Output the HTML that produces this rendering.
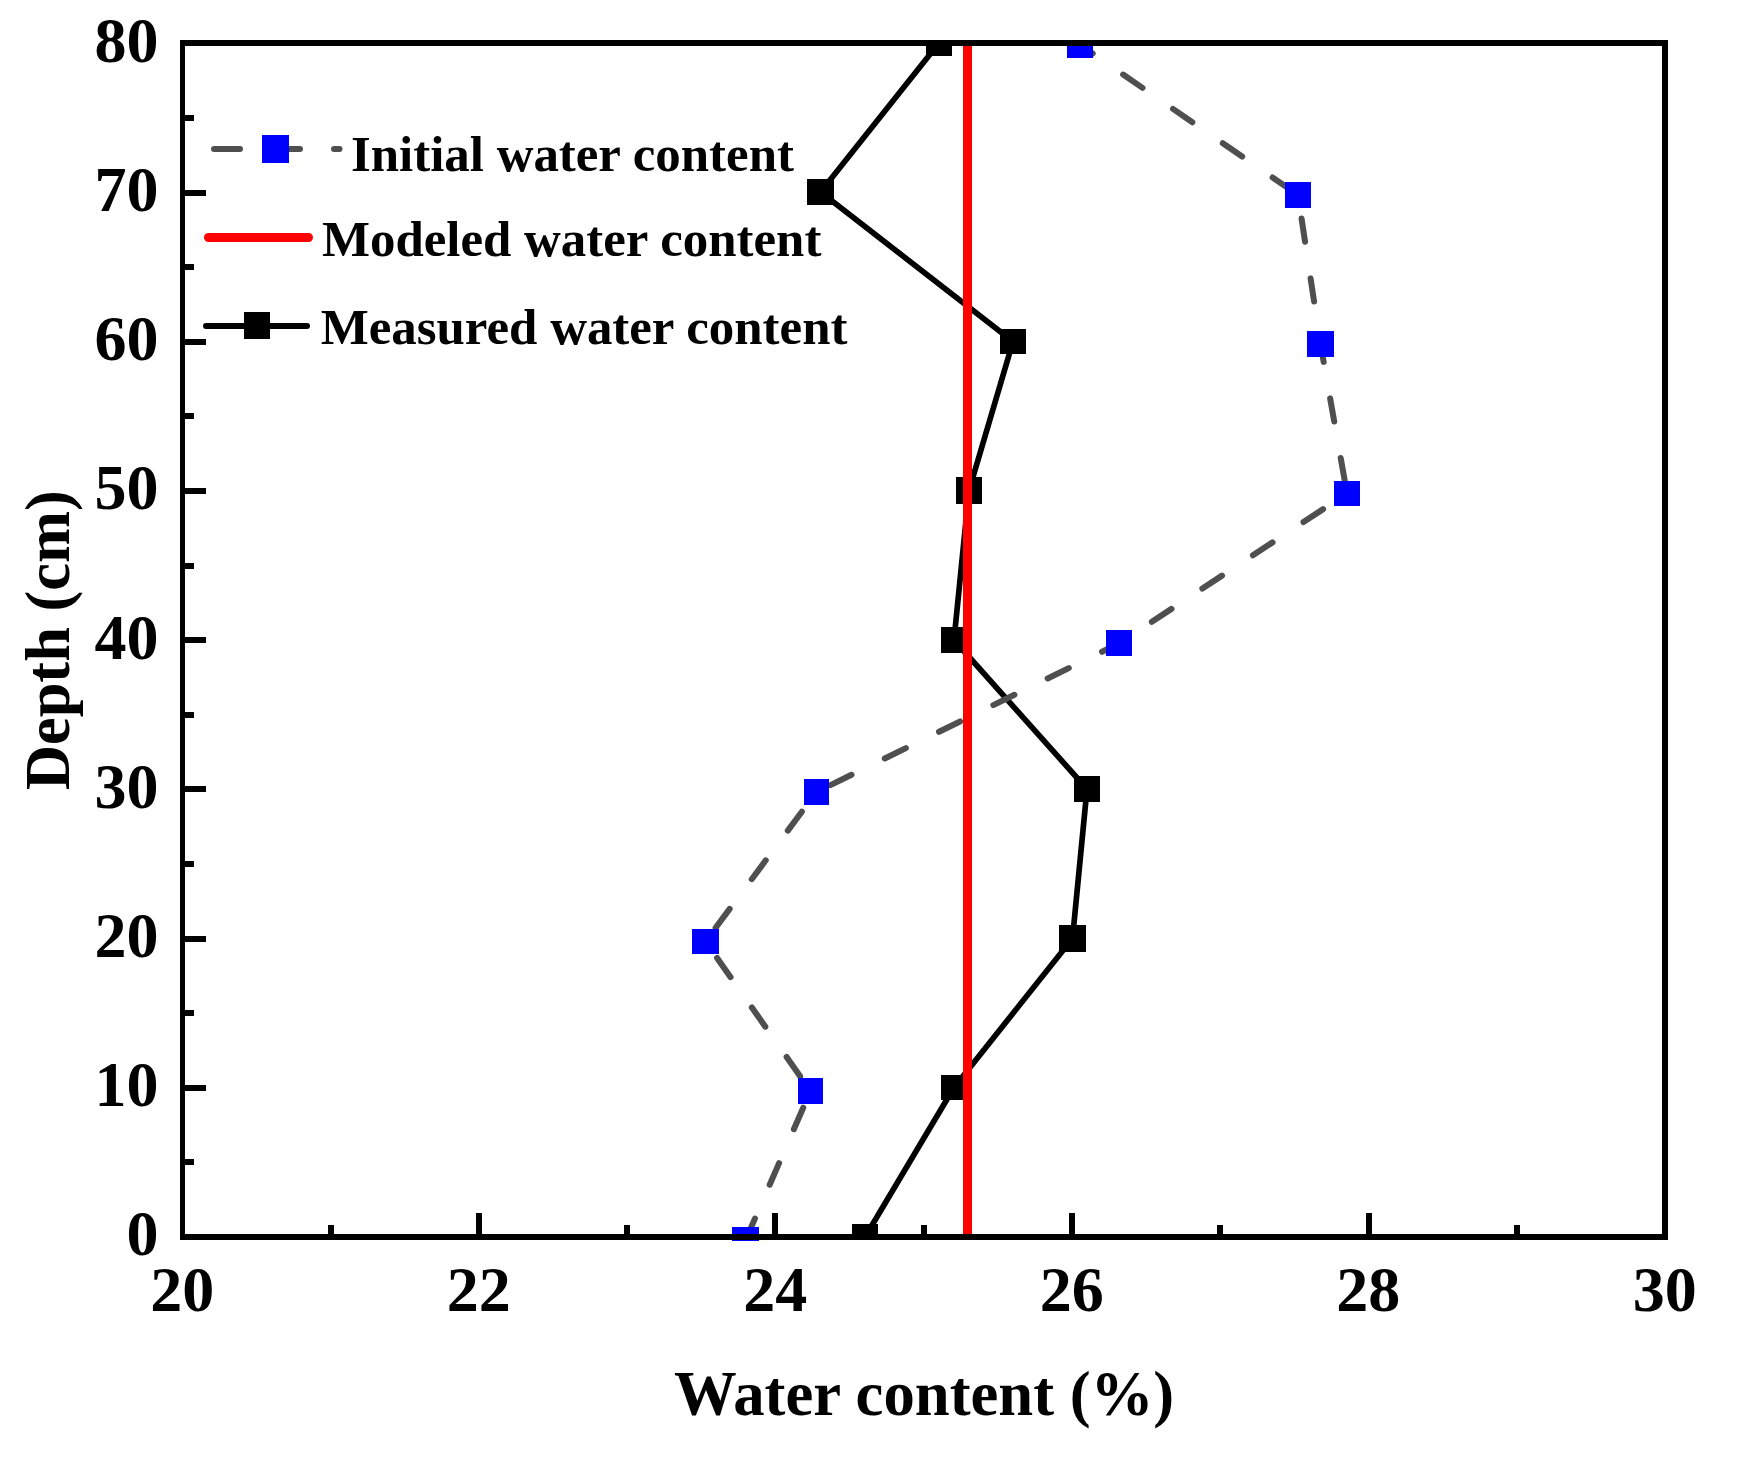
<!DOCTYPE html>
<html lang="en"><head><meta charset="utf-8"><title>Water content vs depth</title>
<style>
html,body{margin:0;padding:0;background:#fff;}
body{width:1738px;height:1463px;overflow:hidden;}
svg{display:block;}
text{font-family:"Liberation Serif",serif;font-weight:bold;fill:#000;}
.tk{font-size:64px;}
.ttl{font-size:62.7px;}
.lg{font-size:50.9px;}
</style></head><body>
<svg width="1738" height="1463" viewBox="0 0 1738 1463">
<rect x="0" y="0" width="1738" height="1463" fill="#fff"/>
<defs><clipPath id="plot"><rect x="180" y="40" width="1488" height="1200"/></clipPath></defs>
<g clip-path="url(#plot)">
<polyline fill="none" stroke="#000" stroke-width="5.7" stroke-linejoin="round" points="865,1237 954,1087.5 1072.5,938.5 1087,789 954,640 969,490.5 1013,341.5 820.5,192 939,43"/>
<rect x="852" y="1224" width="26" height="26" fill="#000"/>
<rect x="941" y="1075" width="26" height="25" fill="#000"/>
<rect x="1059" y="925" width="27" height="27" fill="#000"/>
<rect x="1074" y="776" width="26" height="26" fill="#000"/>
<rect x="941" y="627" width="26" height="26" fill="#000"/>
<rect x="956" y="477" width="26" height="27" fill="#000"/>
<rect x="1000" y="329" width="26" height="25" fill="#000"/>
<rect x="807" y="179" width="27" height="26" fill="#000"/>
<rect x="926" y="30" width="26" height="26" fill="#000"/>
<line x1="1080" y1="44.85" x2="1298" y2="195" stroke="#4f4f4f" stroke-width="6" stroke-linecap="round" stroke-dasharray="23.5 37" stroke-dashoffset="-52.4"/>
<line x1="1298" y1="195" x2="1320.5" y2="344" stroke="#4f4f4f" stroke-width="6" stroke-linecap="round" stroke-dasharray="23.5 37" stroke-dashoffset="-23.8"/>
<line x1="1320.5" y1="344" x2="1347" y2="493.4" stroke="#4f4f4f" stroke-width="6" stroke-linecap="round" stroke-dasharray="23.5 37" stroke-dashoffset="-55.2"/>
<line x1="1347" y1="493.4" x2="1119" y2="643.4" stroke="#4f4f4f" stroke-width="6" stroke-linecap="round" stroke-dasharray="23.5 37" stroke-dashoffset="-28.6"/>
<line x1="1119" y1="643.4" x2="816.5" y2="792" stroke="#4f4f4f" stroke-width="6" stroke-linecap="round" stroke-dasharray="23.5 37" stroke-dashoffset="-56"/>
<line x1="816.5" y1="792" x2="705.5" y2="941.4" stroke="#4f4f4f" stroke-width="6" stroke-linecap="round" stroke-dasharray="23.5 37" stroke-dashoffset="-24.6"/>
<line x1="705.5" y1="941.4" x2="810.5" y2="1091" stroke="#4f4f4f" stroke-width="6" stroke-linecap="round" stroke-dasharray="23.5 37" stroke-dashoffset="-20.2"/>
<line x1="810.5" y1="1091" x2="745.6" y2="1240" stroke="#4f4f4f" stroke-width="6" stroke-linecap="round" stroke-dasharray="23.5 37" stroke-dashoffset="-18.2"/>
<rect x="1067" y="32" width="26" height="26" fill="#0000ff"/>
<rect x="1285" y="182" width="26" height="26" fill="#0000ff"/>
<rect x="1307" y="331" width="27" height="26" fill="#0000ff"/>
<rect x="1334" y="481" width="26" height="25" fill="#0000ff"/>
<rect x="1106" y="630" width="26" height="26" fill="#0000ff"/>
<rect x="804" y="779" width="25" height="26" fill="#0000ff"/>
<rect x="692" y="929" width="27" height="25" fill="#0000ff"/>
<rect x="798" y="1078" width="25" height="26" fill="#0000ff"/>
<rect x="732" y="1227" width="27" height="26" fill="#0000ff"/>
<rect x="963" y="40" width="9" height="1200" fill="#ff0000"/>
</g>
<g fill="#000">
<rect x="180" y="40" width="1488" height="6"/>
<rect x="180" y="1234" width="1488" height="6"/>
<rect x="180" y="40" width="5" height="1200"/>
<rect x="1662" y="40" width="6" height="1200"/>
<rect x="185" y="1159" width="9" height="6"/>
<rect x="185" y="1085" width="21" height="6"/>
<rect x="185" y="1010" width="9" height="6"/>
<rect x="185" y="936" width="21" height="6"/>
<rect x="185" y="861" width="9" height="6"/>
<rect x="185" y="786" width="21" height="6"/>
<rect x="185" y="712" width="9" height="6"/>
<rect x="185" y="637" width="21" height="6"/>
<rect x="185" y="563" width="9" height="6"/>
<rect x="185" y="488" width="21" height="6"/>
<rect x="185" y="413" width="9" height="6"/>
<rect x="185" y="339" width="21" height="6"/>
<rect x="185" y="264" width="9" height="6"/>
<rect x="185" y="190" width="21" height="6"/>
<rect x="185" y="115" width="9" height="6"/>
<rect x="328" y="1225" width="6" height="9"/>
<rect x="476" y="1213" width="6" height="21"/>
<rect x="624" y="1225" width="6" height="9"/>
<rect x="772" y="1213" width="6" height="21"/>
<rect x="921" y="1225" width="6" height="9"/>
<rect x="1069" y="1213" width="6" height="21"/>
<rect x="1217" y="1225" width="6" height="9"/>
<rect x="1366" y="1213" width="6" height="21"/>
<rect x="1514" y="1225" width="6" height="9"/>
</g>
<rect x="732" y="1240" width="27" height="1" fill="#0000ff"/>
<text class="tk" x="158.6" y="1255.3" text-anchor="end">0</text>
<text class="tk" x="158.6" y="1106.11" text-anchor="end">10</text>
<text class="tk" x="158.6" y="956.925" text-anchor="end">20</text>
<text class="tk" x="158.6" y="807.737" text-anchor="end">30</text>
<text class="tk" x="158.6" y="658.55" text-anchor="end">40</text>
<text class="tk" x="158.6" y="509.363" text-anchor="end">50</text>
<text class="tk" x="158.6" y="360.175" text-anchor="end">60</text>
<text class="tk" x="158.6" y="210.988" text-anchor="end">70</text>
<text class="tk" x="158.6" y="61.8" text-anchor="end">80</text>
<text class="tk" x="182.2" y="1311" text-anchor="middle">20</text>
<text class="tk" x="478.7" y="1311" text-anchor="middle">22</text>
<text class="tk" x="775.2" y="1311" text-anchor="middle">24</text>
<text class="tk" x="1071.7" y="1311" text-anchor="middle">26</text>
<text class="tk" x="1368.2" y="1311" text-anchor="middle">28</text>
<text class="tk" x="1664.7" y="1311" text-anchor="middle">30</text>
<text class="ttl" x="924.1" y="1414.7" text-anchor="middle">Water content (%)</text>
<text class="ttl" style="font-size:62.4px" transform="translate(69.2,640.2) rotate(-90)" text-anchor="middle">Depth (cm)</text>
<line x1="214" y1="149" x2="339.5" y2="149" stroke="#4f4f4f" stroke-width="6" stroke-linecap="round" stroke-dasharray="26 34"/>
<rect x="262" y="135" width="27" height="28" fill="#0000ff"/>
<text class="lg" x="351" y="171.3">Initial water content</text>
<line x1="208.5" y1="237.5" x2="308.5" y2="237.5" stroke="#ff0000" stroke-width="9" stroke-linecap="round"/>
<text class="lg" x="322" y="255.8">Modeled water content</text>
<line x1="206" y1="326" x2="307" y2="326" stroke="#000" stroke-width="6" stroke-linecap="round"/>
<rect x="244" y="312" width="26" height="27" fill="#000"/>
<text class="lg" x="320.7" y="343.7">Measured water content</text>
</svg></body></html>
